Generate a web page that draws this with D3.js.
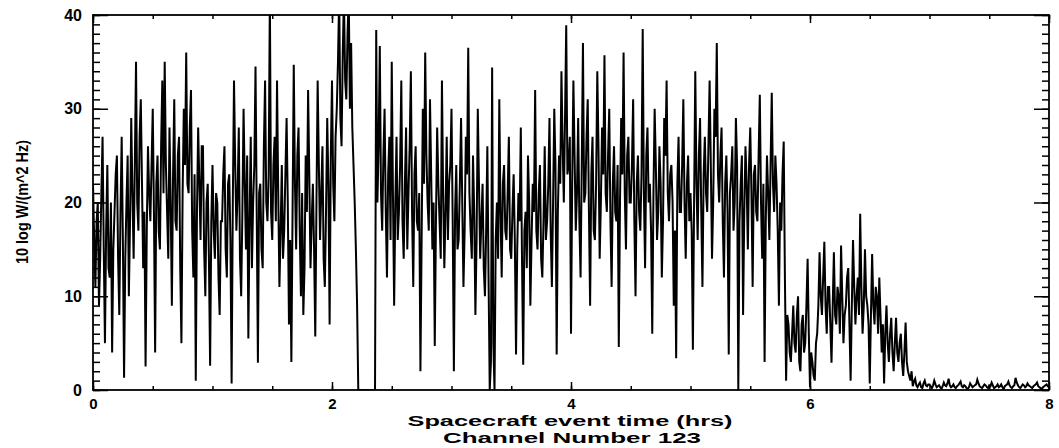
<!DOCTYPE html>
<html>
<head>
<meta charset="utf-8">
<script src="https://cdn.jsdelivr.net/npm/d3@7"></script>
<style>
  body { margin: 0; background: #fff; }
  text { font-family: "Liberation Sans", Arial, sans-serif; fill: #000; }
</style>
</head>
<body>
<svg id="chart" width="1059" height="448"></svg>
<script>
const width = 1059;
const height = 448;

// trace: one array per half hour (0.01 h apart), then the quiet tail 7-8 h
const seg0 = [22,16, 11,18, 20,9, 14,21, 27,15, 5,17, 24,13, 12,20, 4,15, 19,23, 25,14, 8,19, 27,16, 1.3,14, 20,25, 10,18, 29,21, 14,24, 35,20, 17,27, 31,22, 13,19, 2.5,17, 26,21, 18,24];
const seg1 = [30,19, 4,22, 25,17, 15,26, 33,21, 35,24, 19,14, 28,20, 9,23, 31,18, 17,25, 27,13, 5,21, 30,24, 36,22, 21,28, 32,17, 12,23, 1,19, 28,22, 16,26, 26,15, 10,20, 22,14, 2.6,18];
const seg2 = [24,17, 14,21, 20,12, 8,18, 18,23, 26,15, 12,22, 23,16, 0.7,20, 33,24, 17,21, 28,14, 10,19, 30,22, 15,25, 5.5,18, 27,13, 20,24, 34.5,19, 2.9,21, 22,15, 13,26, 33,20, 18,23, 42,19];
const seg3 = [16,24, 27,18, 33,21, 11,17, 24,14, 17,23, 29,20, 7,16, 3,19, 34.7,22, 15,25, 28,17, 10,21, 8,13, 25,19, 32,23, 13,18, 22,15, 5.7,20, 33,24, 16,21, 26,14, 11,19, 29,22, 7,25];
const seg4 = [33,22,18,27,30,35,42,29,26,36,42,33,31,38,42,30,37,28,24,20,15,9,
  0,0,0,0,0,0,0,0,0,0,0,0,0,0,0, 38.4, 20,26,36.7,21,17,25,30,19,12,23,27,16];
const seg5 = [35,21, 9,20, 27,16, 19,24, 33,18, 14,22, 28,15, 21,26, 34,19, 11,23, 26,18, 17,21, 2,16, 30,22, 36,25, 20,17, 31,23, 15,20, 4.7,18, 28,22, 18,14, 33,21, 13,19, 27,16, 22,24];
const seg6 = [30,18, 2,19, 24,15, 16,22, 29,20, 11,17, 27,23, 36.5,21, 17,14, 25,19, 8,16, 30,22, 14,18, 22,13, 10,17, 26,12, 0,3, 34.4,5, 0,16, 20,14, 31,19, 12,22, 24,17, 16,21, 27,15];
const seg7 = [14,19, 23,16, 3.8,15, 21,18, 28,14, 2.7,17, 19,13, 25,20, 9,16, 22,19, 32,17, 15,21, 24,14, 12,18, 26,16, 18,22, 29,17, 11,20, 30,24, 3.8,19, 25,22, 34,26, 20,29, 38.9,23, 24,27];
const seg8 = [6,22, 33,25, 17,21, 29,18, 12,24, 37,20, 21,27, 31,19, 9,23, 27,17, 16,22, 34,26, 14,20, 28,23, 35.7,21, 19,25, 30,18, 11,22, 26,19, 18,24, 4.6,20, 29,23, 36,21, 15,25, 27,20];
const seg9 = [20,24, 31,18, 10,22, 25,19, 17,23, 38.5,21, 13,25, 28,20, 22,17, 6,21, 30,24, 16,19, 26,22, 12,18, 29,25, 33,21, 18,23, 24,20, 9,17, 3.4,22, 27,19, 19,24, 31,20, 14,22, 25,18];
const seg10 = [21,17, 4.3,20, 34,22, 16,25, 29,19, 11,23, 27,21, 19,26, 33,24, 14,20, 30,27, 37,23, 20,25, 28,18, 12,22, 25,19, 3.8,21, 23,26, 17,20, 29,24, 0,18, 22,25, 8,19, 26,22, 15,24];
const seg11 = [28,21,11,23,24,19,18,25,31.5,20, 14,22,3,18,25,21,16,24,31.7,22, 19,25,22,17,9,20,17,23,26.5,12,
  1,8,7,4,3,6,9,5,4,8, 10,3,2,7,8,4,5,9,14,6];
const seg12 = [0.3,4, 3,1.5, 1,5, 6,9, 14.7,10, 8,12, 15.8,9, 6,11, 11,7, 2.9,9, 14.7,8, 7,11, 10,6, 15.4,10, 5,8, 9,12, 13,7, 1,9, 16,11, 7,10, 12,8, 18.8,11, 6,9, 15,10, 9,7];
const seg13 = [0.7,8, 14.5,9, 7,11, 10,6, 12,8, 4,7, 0.7,6, 9,5, 3,6, 7.7,4, 2,5, 7.7,4, 3,5, 6,3, 1.5,4, 7.2,3, 2,1.5, 1,2, 0.4,0.9, 1.2,0.5, 0.3,0.6, 0.8,0.3, 0.2,0.7, 1,0.5, 0.4,0.6];
const tail = [0.6,0.4, 0.2,0.5, 1.0,0.6, 0.3,0.4, 0.5,0.3, 0.1,0.4, 0.8,0.5, 0.4,0.7, 1.2,0.5, 0.3,0.4,
  0.6,0.3, 0.2,0.4, 0.5,0.7, 0.9,0.4, 0.3,0.5, 0.4,0.2, 0.1,0.3, 0.7,0.5, 0.3,0.4, 0.5,0.6,
  1.1,0.7, 0.4,0.3, 0.2,0.4, 0.6,0.5, 0.3,0.2, 0.5,0.4, 0.8,0.5, 0.2,0.3, 0.4,0.6, 0.3,0.4,
  0.6,0.3, 0.1,0.4, 0.5,0.6, 0.9,0.5, 0.3,0.2, 0.4,0.5, 1.3,0.8, 0.5,0.3, 0.2,0.4, 0.6,0.5,
  0.3,0.4, 0.7,0.5, 0.4,0.3, 0.2,0.4, 0.5,0.6, 0.8,0.4, 0.3,0.2, 0.1,0.3, 0.4,0.5, 0.6,0.4, 0.3];

const halfHours = [seg0, seg1, seg2, seg3, seg4, seg5, seg6, seg7, seg8, seg9, seg10, seg11, seg12, seg13];

const xTicks = [0, 2, 4, 6, 8];
const yTicks = [0, 10, 20, 30, 40];

// each half-hour array covers [k*0.5, k*0.5+0.5), tail covers 7..8 inclusive
const trace = [];
halfHours.forEach((seg, k) => {
  seg.forEach((v, i) => trace.push([k * 0.5 + i * 0.5 / seg.length, v]));
});
tail.forEach((v, i) => trace.push([7 + i / (tail.length - 1), v]));

const margin = {left: 93, right: 10, top: 15, bottom: 58};

const x = d3.scaleLinear().domain([0, 8]).range([margin.left, width - margin.right]);
const y = d3.scaleLinear().domain([0, 40]).range([height - margin.bottom, margin.top]);

const svg = d3.select("#chart");

svg.append("clipPath").attr("id", "plot")
  .append("rect")
    .attr("x", x(0)).attr("y", y(40))
    .attr("width", x(8) - x(0)).attr("height", y(0) - y(40));

const line = d3.line()
  .x(d => x(d[0]))
  .y(d => y(d[1]));

svg.append("path")
  .datum(trace)
  .attr("clip-path", "url(#plot)")
  .attr("fill", "none")
  .attr("stroke", "#000")
  .attr("stroke-width", 2)
  .attr("d", line);

// frame
svg.append("rect")
  .attr("x", x(0)).attr("y", y(40))
  .attr("width", x(8) - x(0)).attr("height", y(0) - y(40))
  .attr("fill", "none").attr("stroke", "#000").attr("stroke-width", 1.8);

function ticks(axis, tr) {
  const g = svg.append("g").attr("transform", tr).call(axis);
  g.select(".domain").remove();
  g.selectAll("line").attr("stroke", "#000").attr("stroke-width", 1.5);
  return g;
}

const minorX = d3.range(0, 8.01, 0.5);
const minorY = d3.range(0, 40.1, 1);

// bottom
ticks(d3.axisBottom(x).tickValues(minorX).tickSize(-4).tickFormat(""), `translate(0,${y(0)})`);
const xAx = ticks(d3.axisBottom(x).tickValues(xTicks).tickSize(-8).tickPadding(8).tickFormat(d3.format("d")),
  `translate(0,${y(0)})`);
xAx.selectAll("text").attr("font-size", 15).attr("font-weight", "bold");

// top
ticks(d3.axisTop(x).tickValues(minorX).tickSize(-4).tickFormat(""), `translate(0,${y(40)})`);
ticks(d3.axisTop(x).tickValues(xTicks).tickSize(-8).tickFormat(""), `translate(0,${y(40)})`);

// left
ticks(d3.axisLeft(y).tickValues(minorY).tickSize(-7).tickFormat(""), `translate(${x(0)},0)`);
const yAx = ticks(d3.axisLeft(y).tickValues(yTicks).tickSize(-15).tickFormat(d3.format("d")),
  `translate(${x(0)},0)`);
yAx.selectAll("text").attr("font-size", 16).attr("font-weight", "bold").attr("x", -11);

// right
ticks(d3.axisRight(y).tickValues(minorY).tickSize(-7).tickFormat(""), `translate(${x(8)},0)`);
ticks(d3.axisRight(y).tickValues(yTicks).tickSize(-15).tickFormat(""), `translate(${x(8)},0)`);

// titles
svg.append("text")
  .attr("x", 570).attr("y", 426)
  .attr("text-anchor", "middle")
  .attr("font-size", 14).attr("font-weight", "bold")
  .attr("textLength", 325).attr("lengthAdjust", "spacingAndGlyphs")
  .text("Spacecraft event time (hrs)");

svg.append("text")
  .attr("x", 572).attr("y", 443)
  .attr("text-anchor", "middle")
  .attr("font-size", 14).attr("font-weight", "bold")
  .attr("textLength", 258).attr("lengthAdjust", "spacingAndGlyphs")
  .text("Channel Number 123");

svg.append("text")
  .attr("transform", "translate(28,202) rotate(-90)")
  .attr("text-anchor", "middle")
  .attr("font-size", 16).attr("font-weight", "bold")
  .attr("textLength", 124).attr("lengthAdjust", "spacingAndGlyphs")
  .text("10 log W/(m^2 Hz)");
</script>
</body>
</html>
